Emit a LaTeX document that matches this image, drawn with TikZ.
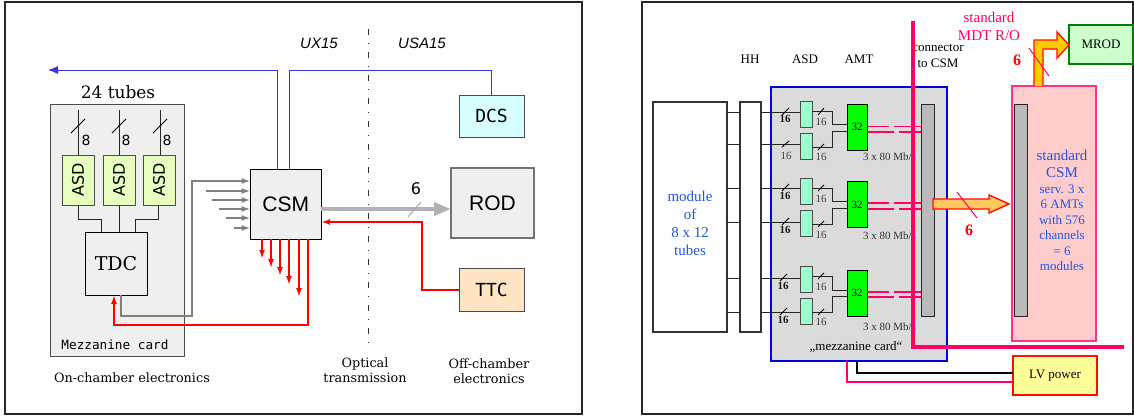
\documentclass[tikz,border=0pt]{standalone}
\usepackage{fontspec}
\usepackage{xcolor}
\usetikzlibrary{positioning,arrows.meta}
\setmainfont{Liberation Serif}
\newfontfamily\dejaserif{DejaVu Serif}
\newfontfamily\dejasans{DejaVu Sans}
\newfontfamily\dejamono{DejaVu Sans Mono}
\newfontfamily\arialfont{Liberation Sans}
\newcommand{\fsz}[1]{\fontsize{#1}{#1}\selectfont}
\definecolor{mdtpink}{HTML}{FF0066}
\definecolor{textblue}{HTML}{2255DD}
\definecolor{wireblue}{HTML}{3333EE}
\definecolor{cardgray}{HTML}{EFEFEF}

\begin{document}
\begin{tikzpicture}[
    x=1pt,
    y=-1pt,
    every node/.style={inner sep=0pt, outer sep=0pt},
    frame/.style={draw=black!85, line width=1.2pt, minimum width=#1, minimum height=412pt},
    block/.style={rectangle, draw=black!70, line width=1pt, fill=cardgray, text=black},
    asdleft/.style={block, fill={rgb,255:red,230;green,255;blue,191}, minimum width=50pt, minimum height=32pt, rotate=90, font=\dejasans\fsz{16}},
    monobox/.style={block, minimum width=65pt, minimum height=42pt, font=\dejamono\fsz{18}},
    asdright/.style={block, fill={rgb,255:red,153;green,255;blue,204}, minimum width=12pt, minimum height=26pt},
    amtbox/.style={block, draw=black, fill=green, minimum width=20pt, minimum height=46pt, font=\fsz{11}},
    barbox/.style={block, draw=black!85, fill=black!27, minimum width=13pt, minimum height=212pt},
    wire/.style={draw=black!85, line width=1pt},
    slash/.style={draw=black, line width=0.9pt},
    countlabel/.style={font=\fsz{11}, text=black!75},
    boldlabel/.style={font=\bfseries\fsz{11}, text=black!90},
    graybus/.style={draw=black!50, line width=1.6pt, -{Latex[length=9pt,width=6pt]}},
    redbus/.style={draw=red, line width=2pt, -{Latex[length=9pt,width=6pt]}},
    blueline/.style={draw=wireblue, line width=1pt},
    pinkbus/.style={draw=mdtpink, line width=1.2pt},
    bigarrow/.style={draw=red!90!orange, line width=1.4pt, line join=miter},
    caption/.style={font=\dejaserif\fsz{12.8}, align=center},
    rmtext/.style={font=\fsz{13}, align=center},
    bluetext/.style={font=\fsz{13}, text=textblue, align=center}
]
    \useasboundingbox (0,0) rectangle (1134,415);

    % Frames
    \node [frame=577pt] (leftframe) at (293.5,208) {};
    \node [frame=491pt] (rightframe) at (887.5,208) {};

    % Left panel, components
    \node [block, minimum width=133.5pt, minimum height=252pt] (mezz) at (117.25,230) {};
    \node [asdleft] (asd1) at (78,180) {ASD};
    \node [asdleft, right=9pt of asd1.south, anchor=north] (asd2) {ASD};
    \node [asdleft, right=8pt of asd2.south, anchor=north] (asd3) {ASD};
    \node [block, draw=black, minimum width=62pt, minimum height=63pt, font=\dejaserif\fsz{19}] (tdc) at (116,263.5) {TDC};
    \node [block, draw=black, minimum width=70.5pt, minimum height=70pt, font=\arialfont\fsz{21}] (csm) at (285.75,204) {CSM};
    \node [monobox, fill={rgb,255:red,216;green,255;blue,255}] (dcs) at (491.5,116) {DCS};
    \node [block, draw=black!55, line width=1.2pt, minimum width=83pt, minimum height=70pt, font=\arialfont\fsz{21}] (rod) at (492.5,203) {ROD};
    \node [monobox, fill={rgb,255:red,255;green,228;blue,196}, minimum height=43pt, below=131pt of dcs] (ttc) {TTC};

    % Left panel, labels
    \node [font=\dejaserif\fsz{17}] (tubes) at (118,92) {24 tubes};
    \node [font=\dejasans\fsz{14}] (eight1) at (86,140) {8};
    \node [font=\dejasans\fsz{14}] (eight2) at (126,140) {8};
    \node [font=\dejasans\fsz{14}] (eight3) at (167,140) {8};
    \node [font=\dejamono\fsz{12.7}] (mezztext) at (115,345) {Mezzanine card};
    \node [caption] (onchamber) at (132,378) {On-chamber electronics};
    \node [caption] (optical) at (365,370.5) {Optical\\[2pt]transmission};
    \node [caption] (offchamber) at (489,371.5) {Off-chamber\\[2pt]electronics};
    \node [font=\arialfont\itshape\fsz{15}] (ux) at (319,43) {UX15};
    \node [font=\arialfont\itshape\fsz{15}] (usa) at (422,43) {USA15};
    \node [font=\dejasans\fsz{16}] (six) at (416,189) {6};

    \coordinate (blueend) at (48,70);
    \coordinate (csmup1) at (277,169);
    \coordinate (csmup2) at (289,169);
    \coordinate (tube1) at (78,110);
    \coordinate (tube2) at (119,110);
    \coordinate (tube3) at (160,110);
    \coordinate (tdcin1) at (101,232);
    \coordinate (tdcin3) at (135,232);
    \coordinate (tdcout) at (121,295);
    \coordinate (tdcret) at (114,295);
    \coordinate (csmin1) at (250.5,181);
    \coordinate (csmret) at (308,239);
    \coordinate (ttcret) at (321,222);

    % Left panel, wires
    \path [blueline, -{Latex[length=10pt,width=8pt]}] (csmup1) |- (blueend);
    \path [blueline] (csmup2) |- (blueend -| dcs.north) -- (dcs.north);
    \path [wire] (tube1) -- (tube1 |- asd1.east);
    \path [wire] (tube2) -- (tube2 |- asd2.east);
    \path [wire] (tube3) -- (tube3 |- asd3.east);
    \path [slash] (71,133) -- (85,119);
    \path [slash] (112,133) -- (126,119);
    \path [slash] (153,133) -- (167,119);
    \path [wire] (asd1.west) |- (101,219) -- (tdcin1);
    \path [wire] (asd2.west) -- (tdc.north -| asd2.west);
    \path [wire] (158,205) |- (135,219) -- (tdcin3);

    % Grey inputs of the CSM
    \path [graybus] (tdcout) |- (192,316) |- (csmin1);
    \path [graybus] (206,191) -- (csm.west |- 0,191);
    \path [graybus] (212,200) -- (csm.west |- 0,200);
    \path [graybus] (219,209) -- (csm.west |- 0,209);
    \path [graybus] (226,218) -- (csm.west |- 0,218);
    \path [graybus] (234,228) -- (csm.west |- 0,228);

    % Red lines
    \path [redbus] (csm.south -| 262,0) -- (262,259);
    \path [redbus] (csm.south -| 271,0) -- (271,268);
    \path [redbus] (csm.south -| 280,0) -- (280,276);
    \path [redbus] (csm.south -| 289,0) -- (289,285);
    \path [redbus] (csm.south -| 299,0) -- (299,297);
    \path [redbus] (csmret) |- (114,325) -- (tdcret);
    \path [redbus] (ttc.west) -| (422,222) -- (ttcret);

    % Output to the ROD
    \path [draw=black!30, line width=4.5pt, -{Triangle[length=17pt,width=13pt]}] (csm.east |- 0,209) -- (rod.west |- 0,209);
    \path [draw=black!35, line width=1pt] (408,217) -- (421,202);
    \path [draw=black!80, line width=1pt, dash pattern=on 6pt off 8pt on 1pt off 8pt] (368,29) -- (368,344);

    % Right panel, components
    \node [block, draw=blue!90!black, line width=1.6pt, fill=black!14, minimum width=176pt, minimum height=274pt] (mezzb) at (859,224) {};
    \node [block, draw=black!80, fill=white, line width=1.2pt, minimum width=74pt, minimum height=230pt] (tubesb) at (690,217) {};
    \node [block, draw=black!80, fill=white, line width=1.2pt, minimum width=21pt, minimum height=230pt] (hhb) at (750.5,217) {};
    \node [asdright] (asdb1) at (806,114) {};
    \node [asdright] (asdb2) at (806,146) {};
    \node [asdright] (asdb3) at (806,191) {};
    \node [asdright] (asdb4) at (806,223.5) {};
    \node [asdright] (asdb5) at (806,279.5) {};
    \node [asdright] (asdb6) at (806,311.5) {};
    \node [amtbox] (amt1) at (857,127) {32};
    \node [amtbox] (amt2) at (857,204.5) {32};
    \node [amtbox] (amt3) at (857,293) {32};
    \node [barbox] (barin) at (927.5,210) {};
    \node [block, draw=mdtpink!80, line width=1.2pt, fill=red!20, minimum width=84pt, minimum height=255pt] (csmb) at (1054,213.5) {};
    \node [barbox] (barcsm) at (1020.5,210) {};
    \node [block, draw=green!50!black, line width=1.2pt, fill={rgb,255:red,204;green,255;blue,204}, minimum width=64pt, minimum height=39pt, font=\fsz{13}] (mrod) at (1101,44.5) {MROD};
    \node [block, draw=red!90!orange, line width=1.2pt, fill={rgb,255:red,255;green,255;blue,153}, minimum width=84pt, minimum height=39pt, font=\fsz{13}] (lv) at (1055,375.5) {LV power};

    % Right panel, labels
    \node [rmtext] (hhtext) at (750,59) {HH};
    \node [rmtext] (asdtext) at (805,59) {ASD};
    \node [rmtext] (amttext) at (859,59) {AMT};
    \node [rmtext] (conntext) at (938,56) {connector\\[3pt]to CSM};
    \node [rmtext] (mezzbtext) at (856,347) {„mezzanine card“};
    \node [bluetext, font=\fsz{15}] (moduletext) at (690,223) {module\\[3pt]of\\[3pt]8 x 12\\[3pt]tubes};
    \node [font=\fsz{15}, text=mdtpink, align=center] (mdttext) at (989,26) {standard\\[3pt]MDT R/O};
    \node [bluetext, font=\fsz{15}] (stdcsm) at (1062,163.5) {standard\\[2pt]CSM};
    \node [bluetext] (csmtext) at (1062,228) {serv. 3 x\\[2.5pt]6 AMTs\\[2.5pt]with 576\\[2.5pt]channels\\[2.5pt]= 6\\[2.5pt]modules};
    \node [font=\bfseries\fsz{16}, text=red] (sixa) at (1017,60) {6};
    \node [font=\bfseries\fsz{16}, text=red] (sixb) at (969,230) {6};
    \node [font=\fsz{11}, text=black!80, anchor=west] (rate1) at (863,157) {3 x 80 Mb/s};
    \node [font=\fsz{11}, text=black!80, anchor=west] (rate2) at (863,236) {3 x 80 Mb/s};
    \node [font=\fsz{11}, text=black!80, anchor=west] (rate3) at (863,327) {3 x 80 Mb/s};

    \node [boldlabel] (ca1) at (785,119) {16};
    \node [countlabel] (ca2) at (786,156) {16};
    \node [boldlabel] (ca3) at (785,196) {16};
    \node [boldlabel] (ca4) at (785,230) {16};
    \node [boldlabel] (ca5) at (783,286) {16};
    \node [boldlabel] (ca6) at (783,320) {16};
    \node [countlabel] (cb1) at (821,122) {16};
    \node [countlabel] (cb2) at (821,157) {16};
    \node [countlabel] (cb3) at (821,199) {16};
    \node [countlabel] (cb4) at (821,235) {16};
    \node [countlabel] (cb5) at (821,287) {16};
    \node [countlabel] (cb6) at (821,322) {16};

    \coordinate (in1) at (800,112);
    \coordinate (in2) at (800,144);
    \coordinate (in3) at (800,188);
    \coordinate (in4) at (800,222);
    \coordinate (in5) at (800,278);
    \coordinate (in6) at (800,312);
    \coordinate (outa1) at (812,111);
    \coordinate (outa2) at (812,147);
    \coordinate (outa3) at (812,188);
    \coordinate (outa4) at (812,224);
    \coordinate (outa5) at (812,276);
    \coordinate (outa6) at (812,312);

    % Tubes to ASD
    \path [wire] (tubesb.east |- in1) -- (hhb.west |- in1);
    \path [wire] (tubesb.east |- in2) -- (hhb.west |- in2);
    \path [wire] (tubesb.east |- in3) -- (hhb.west |- in3);
    \path [wire] (tubesb.east |- in4) -- (hhb.west |- in4);
    \path [wire] (tubesb.east |- in5) -- (hhb.west |- in5);
    \path [wire] (tubesb.east |- in6) -- (hhb.west |- in6);
    \path [wire] (hhb.east |- in1) -- (in1);
    \path [wire] (hhb.east |- in2) -- (in2);
    \path [wire] (hhb.east |- in3) -- (in3);
    \path [wire] (hhb.east |- in4) -- (in4);
    \path [wire] (hhb.east |- in5) -- (in5);
    \path [wire] (hhb.east |- in6) -- (in6);

    % ASD to AMT
    \path [wire] (outa1) -- ++(20,0) |- (amt1.west |- 0,124);
    \path [wire] (outa2) -- ++(20,0) |- (amt1.west |- 0,131);
    \path [wire] (outa3) -- ++(20,0) |- (amt2.west |- 0,201);
    \path [wire] (outa4) -- ++(20,0) |- (amt2.west |- 0,208);
    \path [wire] (outa5) -- ++(20,0) |- (amt3.west |- 0,290);
    \path [wire] (outa6) -- ++(20,0) |- (amt3.west |- 0,296);

    % Slashes
    \path [slash] (782,115) -- (789,108);
    \path [slash] (782,147) -- (789,141);
    \path [slash] (782,191) -- (789,184);
    \path [slash] (782,225) -- (789,218);
    \path [slash] (780,281) -- (787,274);
    \path [slash] (780,315) -- (787,308);
    \path [slash] (818,115) -- (824,108);
    \path [slash] (818,150) -- (824,144);
    \path [slash] (818,191) -- (824,185);
    \path [slash] (818,227) -- (824,221);
    \path [slash] (818,279) -- (824,273);
    \path [slash] (818,315) -- (824,309);

    % AMT to connector
    \path [pinkbus, dash pattern=on 22pt off 5pt on 60pt off 0pt] (amt1.east |- 0,126.7) -- (barin.west |- 0,126.7);
    \path [pinkbus, dash pattern=on 27pt off 5pt on 60pt off 0pt] (amt1.east |- 0,132) -- (barin.west |- 0,132);
    \path [pinkbus, dash pattern=on 22pt off 5pt on 60pt off 0pt] (amt2.east |- 0,203) -- (barin.west |- 0,203);
    \path [pinkbus, dash pattern=on 27pt off 5pt on 60pt off 0pt] (amt2.east |- 0,209) -- (barin.west |- 0,209);
    \path [pinkbus, dash pattern=on 22pt off 5pt on 60pt off 0pt] (amt3.east |- 0,292) -- (barin.west |- 0,292);
    \path [pinkbus, dash pattern=on 27pt off 5pt on 60pt off 0pt] (amt3.east |- 0,297) -- (barin.west |- 0,297);

    % Standard readout line and power
    \path [draw=mdtpink, line width=3.2pt] (913,21) |- (1124,347);
    \path [draw=black, line width=2.2pt] (857,361) |- (lv.west |- 0,373);
    \path [draw=mdtpink, line width=2.2pt] (847,361) |- (lv.west |- 0,382);

    % Fat arrows
    \path [bigarrow, fill={rgb,255:red,255;green,200;blue,96}] (933,199) -- (989,199) -- (989,195) -- (1009,204) -- (989,213) -- (989,209) -- (933,209) -- cycle;
    \path [bigarrow, fill={rgb,255:red,255;green,204;blue,0}] (1034,86) -- (1034,40) -- (1057,40) -- (1057,32) -- (1069,45) -- (1057,58) -- (1057,49) -- (1043,49) -- (1043,86);
    \path [draw=mdtpink, line width=1pt] (957,192) -- (977,218);
    \path [draw=mdtpink, line width=1pt] (1029,48) -- (1049,76);
\end{tikzpicture}
\end{document}
